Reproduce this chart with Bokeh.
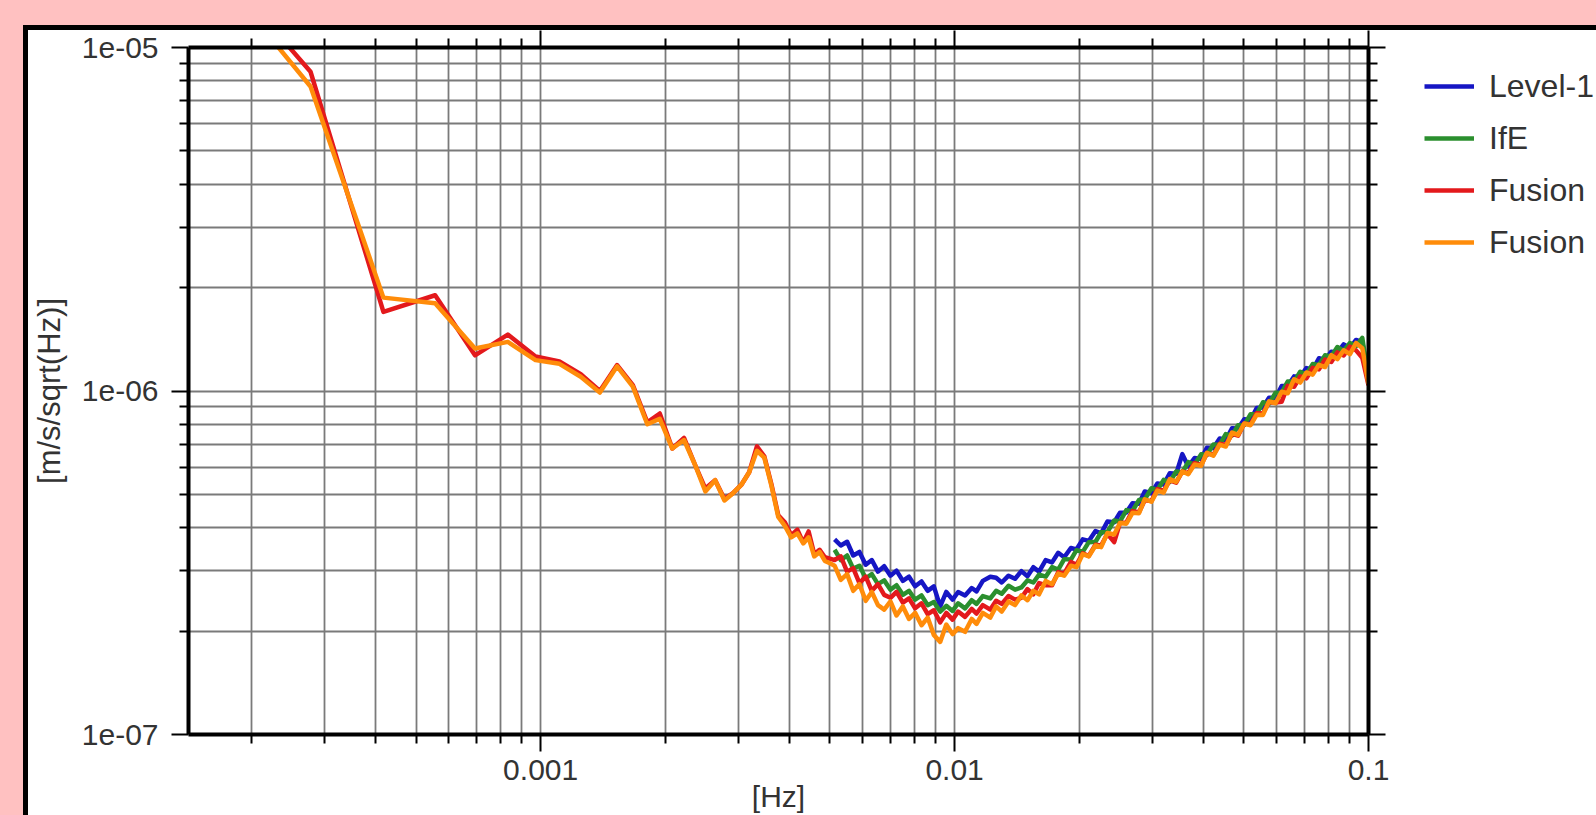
import numpy as np
from bokeh.plotting import figure
from bokeh.layouts import column, row
from bokeh.models import (Range1d, FixedTicker, LogAxis, CustomJSTickFormatter,
                          Legend, LegendItem)
from bokeh.embed import file_html
from bokeh.resources import INLINE

# ---------------- data ----------------
SERIES_NAMES = ["Level-1", "IfE", "Fusion", "Fusion"]
SERIES_COLORS = ["#1616c4", "#2b8f2e", "#e3191c", "#ff8c0a"]
X_TITLE = "[Hz]"
Y_TITLE = "[m/s/sqrt(Hz)]"

# low-frequency bins (Hz), Fusion series only
F_LOW = [0.000139, 0.000278, 0.000417, 0.000556, 0.000694, 0.000833, 0.000972, 0.00111,
         0.00125, 0.00139, 0.00153, 0.00167, 0.00181, 0.00194, 0.00208, 0.00222,
         0.00236, 0.0025, 0.00264, 0.00278, 0.00292, 0.00306, 0.00319, 0.00333,
         0.00347, 0.00361, 0.00375, 0.00389, 0.00403, 0.00417, 0.00431, 0.00444,
         0.00458, 0.00472, 0.00486, 0.005]
# values in units of 1e-7 m/s/sqrt(Hz)
RED_LOW_E7 = [223, 85, 17.0, 19.0, 12.7, 14.6, 12.6, 12.2, 11.2, 10.0, 11.9, 10.4,
              8.1, 8.6, 6.8, 7.3, 6.1, 5.2, 5.5, 4.85, 5.05, 5.35, 5.8, 6.9,
              6.45, 5.35, 4.35, 4.15, 3.8, 3.95, 3.62, 3.9, 3.35, 3.45, 3.28, 3.25]
ORANGE_LOW_E7 = [213, 77, 18.7, 18.0, 13.3, 13.9, 12.3, 12.0, 11.0, 9.9, 11.8, 10.3,
                 8.0, 8.3, 6.8, 7.2, 6.1, 5.1, 5.5, 4.8, 5.05, 5.35, 5.8, 6.7,
                 6.4, 5.3, 4.3, 4.05, 3.75, 3.85, 3.6, 3.75, 3.3, 3.4, 3.2, 3.15]

# high-frequency part (Hz), all four series
F_HIGH = [0.00513, 0.00531, 0.00550, 0.00569, 0.00589, 0.00610, 0.00631, 0.00653, 0.00676, 0.00700,
          0.00724, 0.00750, 0.00776, 0.00803, 0.00832, 0.00861, 0.00891, 0.00923, 0.00955, 0.00989,
          0.0102, 0.0106, 0.0110, 0.0113, 0.0117, 0.0122, 0.0126, 0.0130, 0.0135, 0.0140,
          0.0145, 0.0150, 0.0155, 0.0160, 0.0166, 0.0172, 0.0178, 0.0184, 0.0191, 0.0197,
          0.0204, 0.0211, 0.0219, 0.0226, 0.0234, 0.0243, 0.0251, 0.0260, 0.0269, 0.0279,
          0.0288, 0.0299, 0.0309, 0.0320, 0.0331, 0.0343, 0.0355, 0.0367, 0.0380, 0.0394,
          0.0407, 0.0422, 0.0437, 0.0452, 0.0468, 0.0484, 0.0501, 0.0519, 0.0537, 0.0556,
          0.0575, 0.0596, 0.0617, 0.0638, 0.0661, 0.0684, 0.0708, 0.0733, 0.0759, 0.0785,
          0.0813, 0.0841, 0.0871, 0.0902, 0.0933, 0.0966, 0.1000]

BLUE_HIGH_E7 = [3.70, 3.55, 3.64, 3.32, 3.40, 3.12, 3.22, 2.98, 3.09, 2.90,
                3.00, 2.80, 2.88, 2.70, 2.79, 2.62, 2.70, 2.36, 2.60, 2.47,
                2.60, 2.54, 2.67, 2.61, 2.80, 2.88, 2.86, 2.77, 2.90, 2.84,
                2.99, 2.89, 3.07, 2.98, 3.22, 3.17, 3.38, 3.28, 3.49, 3.46,
                3.70, 3.66, 3.91, 3.85, 4.17, 4.15, 4.42, 4.43, 4.71, 4.70,
                5.10, 5.04, 5.38, 5.34, 5.76, 5.74, 6.55, 6.03, 6.38, 6.34,
                6.84, 6.82, 7.27, 7.20, 7.79, 7.78, 8.28, 8.23, 8.92, 8.95,
                9.56, 9.54, 10.34, 10.34, 11.03, 11.01, 11.66, 11.55, 12.45, 12.33,
                13.02, 12.94, 13.67, 13.32, 14.08, 13.87, 10.9]
GREEN_HIGH_E7 = [3.45, 3.22, 3.32, 3.04, 3.10, 2.85, 2.93, 2.74, 2.81, 2.64,
                 2.72, 2.55, 2.62, 2.47, 2.54, 2.38, 2.43, 2.28, 2.37, 2.29,
                 2.41, 2.33, 2.46, 2.40, 2.53, 2.49, 2.62, 2.57, 2.71, 2.64,
                 2.68, 2.81, 2.77, 2.92, 2.88, 3.07, 3.02, 3.24, 3.23, 3.44,
                 3.40, 3.63, 3.64, 3.88, 3.88, 4.20, 4.17, 4.50, 4.47, 4.82,
                 4.84, 5.21, 5.15, 5.51, 5.43, 5.83, 5.80, 6.21, 6.11, 6.54,
                 6.51, 6.99, 6.98, 7.49, 7.42, 7.95, 7.96, 8.56, 8.57, 9.27,
                 9.18, 9.88, 9.89, 10.66, 10.64, 11.38, 11.17, 11.98, 11.91, 12.70,
                 12.61, 13.43, 13.08, 13.80, 13.52, 14.28, 10.8]
RED_HIGH_E7 = [3.22, 3.30, 2.98, 3.05, 2.76, 2.88, 2.62, 2.74, 2.55, 2.50,
               2.60, 2.42, 2.49, 2.33, 2.41, 2.24, 2.30, 2.12, 2.26, 2.16,
               2.28, 2.20, 2.32, 2.25, 2.38, 2.31, 2.45, 2.40, 2.53, 2.47,
               2.50, 2.65, 2.56, 2.76, 2.72, 2.72, 2.97, 2.94, 3.18, 3.12,
               3.37, 3.31, 3.57, 3.55, 3.84, 3.63, 4.13, 4.14, 4.47, 4.44,
               4.81, 4.78, 5.18, 5.12, 5.49, 5.41, 5.83, 5.76, 6.17, 6.09,
               6.58, 6.52, 7.02, 6.96, 7.50, 7.41, 8.04, 7.99, 8.62, 8.60,
               9.28, 9.26, 9.31, 10.35, 10.29, 11.02, 10.88, 11.68, 11.56, 12.34,
               12.15, 12.95, 12.69, 13.46, 13.13, 12.5, 10.4]
ORANGE_HIGH_E7 = [3.10, 2.82, 2.93, 2.62, 2.74, 2.45, 2.60, 2.38, 2.31, 2.44,
                  2.22, 2.36, 2.17, 2.26, 2.08, 2.19, 1.95, 1.86, 2.09, 1.96,
                  2.04, 1.99, 2.17, 2.10, 2.26, 2.19, 2.36, 2.28, 2.44, 2.38,
                  2.54, 2.46, 2.62, 2.56, 2.80, 2.74, 2.94, 2.90, 3.10, 3.07,
                  3.35, 3.30, 3.55, 3.51, 3.86, 3.82, 4.13, 4.11, 4.42, 4.41,
                  4.84, 4.76, 5.13, 5.06, 5.54, 5.44, 5.83, 5.73, 6.11, 6.06,
                  6.61, 6.48, 6.98, 6.89, 7.57, 7.45, 8.04, 7.95, 8.53, 8.52,
                  9.33, 9.21, 9.95, 9.85, 10.82, 10.58, 11.32, 11.16, 11.92, 11.74,
                  12.71, 12.38, 13.14, 12.80, 13.80, 13.33, 10.5]

X_RANGE = (1.41e-4, 0.1)
Y_RANGE = (1e-7, 1e-5)
X_MAJOR = [0.001, 0.01, 0.1]
Y_MAJOR = [1e-7, 1e-6, 1e-5]
X_MINOR = [m * 10.0 ** e for e in (-4, -3, -2) for m in range(2, 10)]
Y_MINOR = [m * 10.0 ** e for e in (-7, -6) for m in range(2, 10)]
# span along the y axis on which the y title is centred (as in the reference)
Y_TITLE_SPAN = (4.725e-7, 4.725e-6)

E7 = 1e-7

# ---------------- main figure ----------------
FONT = "Liberation Sans"
TXT = "#333333"
PINK = "#ffc1c1"

p = figure(width=1368, height=785, x_axis_type="log", y_axis_type="log",
           x_range=Range1d(*X_RANGE), y_range=Range1d(*Y_RANGE),
           output_backend="svg", toolbar_location=None,
           min_border_left=157, min_border_right=28, min_border_top=17, min_border_bottom=80)
p.border_fill_color = "white"
p.background_fill_color = "white"
p.outline_line_color = None

xt = FixedTicker(ticks=X_MAJOR, minor_ticks=X_MINOR)
yt = FixedTicker(ticks=Y_MAJOR, minor_ticks=Y_MINOR)

xfmt = CustomJSTickFormatter(code="return String(tick);")
yfmt = CustomJSTickFormatter(code="""
const e = Math.round(Math.log10(tick));
return "1e" + (e < 0 ? "-" : "+") + String(Math.abs(e)).padStart(2, "0");
""")

top_ax = LogAxis()
right_ax = LogAxis()
p.add_layout(top_ax, "above")
p.add_layout(right_ax, "right")

def style_axis(ax, ticker, fmt, labels, standoff):
    ax.ticker = ticker
    ax.formatter = fmt
    ax.axis_line_color = "black"
    ax.axis_line_width = 4
    ax.major_tick_line_color = "black"
    ax.major_tick_line_width = 2
    ax.minor_tick_line_color = "black"
    ax.minor_tick_line_width = 2
    ax.major_tick_in = 0
    ax.major_tick_out = 17
    ax.minor_tick_in = 0
    ax.minor_tick_out = 9
    if labels:
        ax.major_label_text_font = FONT
        ax.major_label_text_font_size = "30px"
        ax.major_label_text_color = TXT
    else:
        ax.major_label_text_font_size = "0px"
        ax.major_label_text_color = None
    ax.major_label_standoff = standoff

style_axis(p.below[0], xt, xfmt, True, 8)
style_axis(top_ax, xt, xfmt, False, 0)
style_axis(p.left[0], yt, yfmt, True, 13)
style_axis(right_ax, yt, yfmt, False, 0)

xax = p.below[0]
xax.axis_label = X_TITLE
xax.axis_label_text_font = FONT
xax.axis_label_text_font_size = "30px"
xax.axis_label_text_font_style = "normal"
xax.axis_label_text_color = TXT
xax.axis_label_standoff = -3

# an extra, invisible left axis only carries the y title (centred on Y_TITLE_SPAN)
ytitle_ax = LogAxis(bounds=Y_TITLE_SPAN, ticker=FixedTicker(ticks=[]),
                    axis_line_color=None, major_tick_line_color=None,
                    minor_tick_line_color=None, major_tick_out=0, minor_tick_out=0,
                    major_label_text_font_size="0px", major_label_standoff=0,
                    axis_label=Y_TITLE, axis_label_standoff=12,
                    axis_label_text_font=FONT, axis_label_text_font_size="31px",
                    axis_label_text_font_style="normal", axis_label_text_color=TXT)
p.add_layout(ytitle_ax, "left")

for g, t in ((p.xgrid[0], xt), (p.ygrid[0], yt)):
    g.ticker = t
    g.grid_line_color = "#7a7a7a"
    g.grid_line_width = 1.8
    g.minor_grid_line_color = "#7a7a7a"
    g.minor_grid_line_width = 1.8

LW = 4.5
r_blue = p.line(F_HIGH, [v * E7 for v in BLUE_HIGH_E7], line_color=SERIES_COLORS[0],
                line_width=LW, line_join="round")
r_green = p.line(F_HIGH, [v * E7 for v in GREEN_HIGH_E7], line_color=SERIES_COLORS[1],
                 line_width=LW, line_join="round")
r_red = p.line(F_LOW + F_HIGH, [v * E7 for v in RED_LOW_E7 + RED_HIGH_E7],
               line_color=SERIES_COLORS[2], line_width=LW, line_join="round")
r_orange = p.line(F_LOW + F_HIGH, [v * E7 for v in ORANGE_LOW_E7 + ORANGE_HIGH_E7],
                  line_color=SERIES_COLORS[3], line_width=LW, line_join="round")

# ---------------- legend panel (separate figure to the right) ----------------
pl = figure(width=200, height=785, x_range=Range1d(0, 1), y_range=Range1d(0, 1),
            output_backend="svg", toolbar_location=None, min_border=0)
pl.axis.visible = False
pl.grid.visible = False
pl.outline_line_color = None
pl.border_fill_color = "white"
pl.background_fill_color = "white"
# key-only renderers (a single undefined point: nothing is drawn in the panel)
key_renderers = [pl.line([np.nan], [np.nan], line_color=c, line_width=LW)
                 for c in SERIES_COLORS]

legend = Legend(items=[LegendItem(label=n, renderers=[r])
                       for n, r in zip(SERIES_NAMES, key_renderers)],
                location=(28, 466), orientation="vertical",
                label_text_font=FONT, label_text_font_size="32px", label_text_color=TXT,
                glyph_width=50, glyph_height=52, label_height=52, spacing=0,
                padding=0, margin=0, label_standoff=15,
                border_line_color=None, background_fill_alpha=0)
pl.add_layout(legend, "center")

# slide frame: black rule and pink margin around the white panel
panel = row(p, pl, margin=(5, 0, 0, 5), styles={"background-color": "white"})
framed = column(panel, styles={"background-color": "black"}, margin=(25, 0, 0, 23))
root = column(framed, styles={"background-color": PINK})

open("out.html", "w").write(file_html(root, INLINE))
